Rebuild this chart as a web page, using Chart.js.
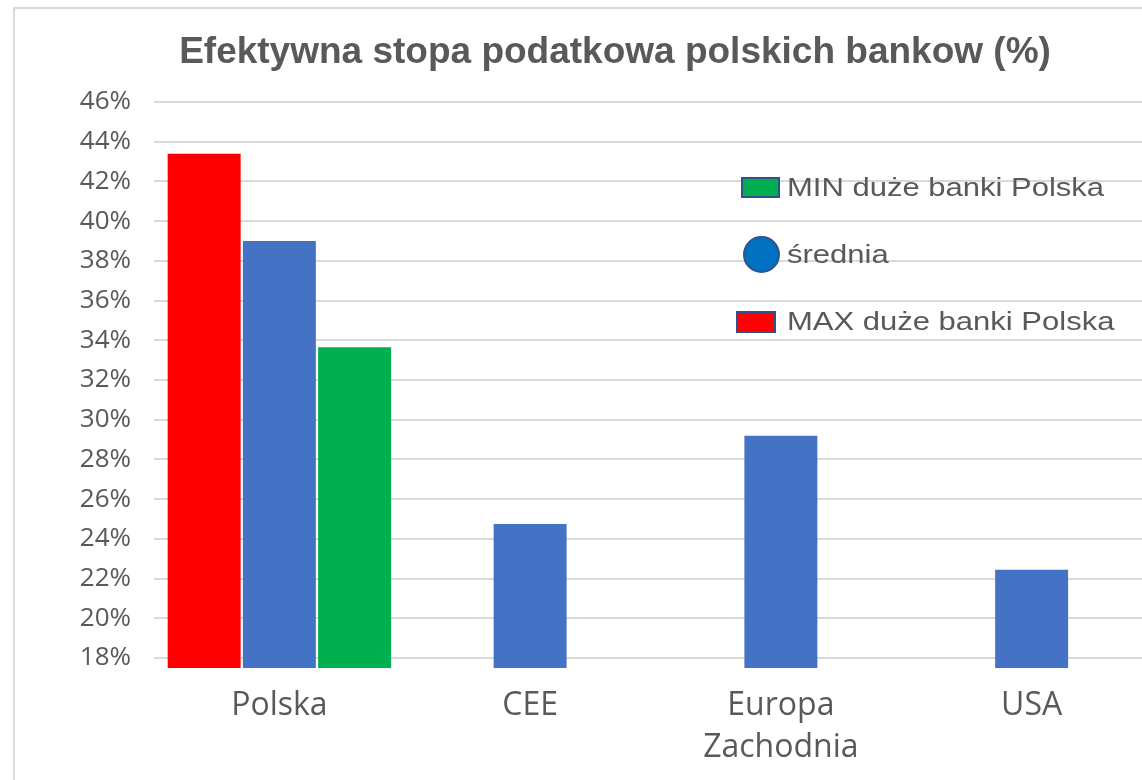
<!DOCTYPE html>
<html lang="pl">
<head>
<meta charset="utf-8">
<title>Efektywna stopa podatkowa</title>
<script src="https://cdn.jsdelivr.net/npm/chart.js@4.4.1/dist/chart.umd.min.js"></script>
<style>
    html, body { margin: 0; padding: 0; background: #fff; width: 1142px; height: 780px; overflow: hidden; }
    #frame { position: absolute; left: 13px; top: 7px; width: 1300px; height: 900px; border: 2px solid #d9d9d9; box-sizing: border-box; }
    #chart { position: absolute; left: 0; top: 0; }
    #legend { position: absolute; left: 736px; top: 154px; }
    .item { display: flex; align-items: center; height: 67px; }
    .marker { width: 51px; display: flex; justify-content: flex-end; padding-right: 7px; box-sizing: border-box; }
    .marker span { display: block; border: 2px solid #2F528F; box-sizing: border-box; }
    .label { font-family: "Liberation Sans", Arial, sans-serif; font-size: 25px; color: #595959; transform: scaleX(1.24); transform-origin: left center; white-space: nowrap; }
</style>
</head>
<body>
<div id="frame"></div>
<canvas id="chart" width="1157" height="780"></canvas>
<div id="legend"></div>
<script>
// --- dane ---
const categories = ['Polska', 'CEE', ['Europa', 'Zachodnia'], 'USA'];
const maxPolska = [43.4, null, null, null];
const srednia = [39.0, 24.75, 29.2, 22.45];
const minPolska = [33.65, null, null, null];
const yTicks = [18, 20, 22, 24, 26, 28, 30, 32, 34, 36, 38, 40, 42, 44, 46];

const seriesNames = ['MAX duże banki Polska', 'średnia', 'MIN duże banki Polska'];
const seriesColors = ['#FF0000', '#4472C4', '#00B050'];

document.addEventListener('DOMContentLoaded', () => {
    const ctx = document.getElementById('chart');
    const gray = '#595959';

    new Chart(ctx, {
        type: 'bar',
        data: {
            labels: categories,
            datasets: [
                { label: seriesNames[0], data: maxPolska, backgroundColor: seriesColors[0] },
                { label: seriesNames[1], data: srednia, backgroundColor: seriesColors[1] },
                { label: seriesNames[2], data: minPolska, backgroundColor: seriesColors[2] }
            ]
        },
        options: {
            responsive: false,
            animation: false,
            barPercentage: 0.97,
            categoryPercentage: 0.9,
            layout: { padding: { left: 73, right: 0, top: 0, bottom: 0 } },
            scales: {
                x: {
                    grid: { display: false, drawTicks: false },
                    border: { display: false },
                    ticks: {
                        color: gray,
                        padding: 17,
                        maxRotation: 0,
                        font: { family: '"Open Sans", sans-serif', size: 32, lineHeight: 1.3 }
                    },
                    afterFit: (scale) => { scale.height = 112; }
                },
                y: {
                    min: 17.5,
                    max: 46,
                    grid: { color: '#d9d9d9', lineWidth: 2, drawTicks: false },
                    border: { display: false },
                    afterBuildTicks: (scale) => { scale.ticks = yTicks.map(v => ({ value: v })); },
                    afterFit: (scale) => { scale.width = 81; },
                    ticks: {
                        color: gray,
                        padding: 23,
                        font: { family: '"Open Sans", sans-serif', size: 26 },
                        callback: (val) => val + '%'
                    }
                }
            },
            plugins: {
                legend: { display: false },
                tooltip: { enabled: false },
                title: {
                    display: true,
                    text: 'Efektywna stopa podatkowa polskich bankow (%)',
                    color: gray,
                    font: { family: '"Liberation Sans", Arial, sans-serif', size: 37, weight: 'bold', lineHeight: 1.2 },
                    padding: { top: 31, bottom: 26.6 }
                }
            }
        }
    });

    // legenda (kolejność jak na oryginale: MIN, średnia, MAX)
    const legend = document.getElementById('legend');
    const legendMarkers = [
        { idx: 2, shape: 'rect', w: 39, h: 21, fill: seriesColors[2] },
        { idx: 1, shape: 'circle', w: 37, h: 37, fill: '#0070C0' },
        { idx: 0, shape: 'rect', w: 40, h: 22, fill: seriesColors[0] }
    ];
    legendMarkers.forEach(m => {
        const item = document.createElement('div');
        item.className = 'item';
        const mk = document.createElement('div');
        mk.className = 'marker';
        if (m.idx === 0) mk.style.paddingRight = '11px';
        const sw = document.createElement('span');
        sw.style.width = m.w + 'px';
        sw.style.height = m.h + 'px';
        sw.style.background = m.fill;
        if (m.shape === 'circle') sw.style.borderRadius = '50%';
        mk.appendChild(sw);
        const lb = document.createElement('div');
        lb.className = 'label';
        lb.textContent = seriesNames[m.idx];
        item.appendChild(mk);
        item.appendChild(lb);
        legend.appendChild(item);
    });
});
</script>
</body>
</html>
